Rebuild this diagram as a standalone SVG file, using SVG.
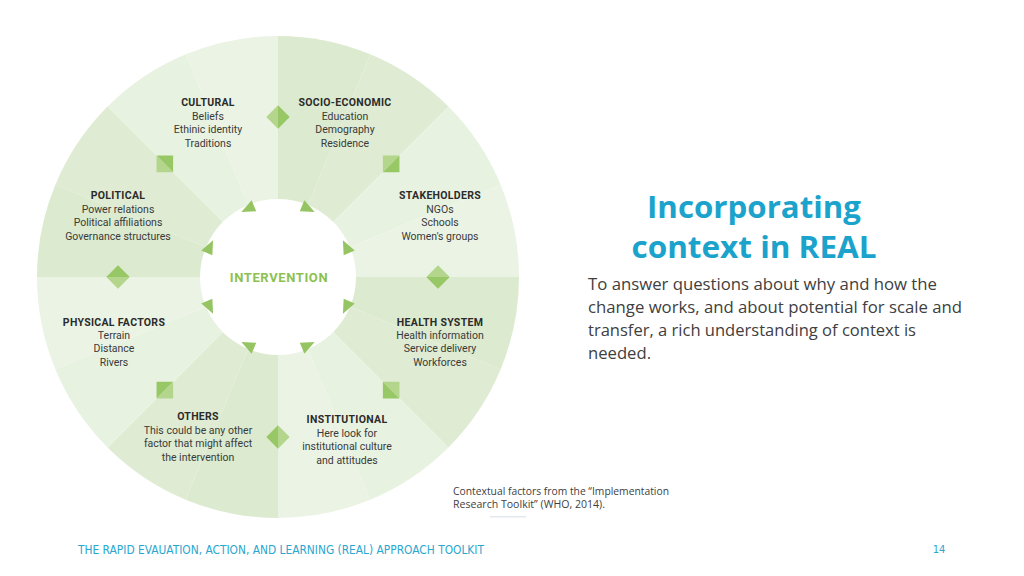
<svg xmlns="http://www.w3.org/2000/svg" width="1024" height="576" viewBox="0 0 1024 576">
<defs>
<style>
.dk1{fill:#dceacf}.dk2{fill:#dfecd3}.lt1{fill:#e8f2e0}.lt2{fill:#ebf4e4}
.hd{font-family:Roboto,"DejaVu Sans",sans-serif;font-weight:bold;font-size:10.5px;fill:#2b2b2b;text-anchor:middle;letter-spacing:0.3px}
.it{font-family:Roboto,"DejaVu Sans",sans-serif;font-size:10.5px;fill:#3a3a3a;text-anchor:middle}
.mkL{fill:#b3d68c}.mkD{fill:#98c766}
.tri{fill:#95c462}
</style>
<g id="tri-inc"><polygon class="tri" points="74,9 69,-5 81,-5"/></g>
<g id="tri-dec"><polygon class="tri" points="74,-9 69,5 81,5"/></g>
<g id="mark"><polygon class="mkL" points="148.3,0 160,-11.7 171.7,0"/><polygon class="mkD" points="148.3,0 160,11.7 171.7,0"/></g>
</defs>
<rect width="1024" height="576" fill="#ffffff"/>

<g id="stakeholders">
<path class="lt1" d="M278,277 L448.41,106.59 A241,241 0 0,1 500.65,184.77 Z"/>
<path class="lt2" d="M278,277 L500.65,184.77 A241,241 0 0,1 519,277 Z"/>
<text class="hd" x="440" y="199">STAKEHOLDERS</text>
<text class="it" x="440" y="213">NGOs</text>
<text class="it" x="440" y="226">Schools</text>
<text class="it" x="440" y="240">Women's groups</text>
</g>
<g id="health-system">
<path class="dk1" d="M278,277 L519,277 A241,241 0 0,1 500.65,369.23 Z"/>
<path class="dk2" d="M278,277 L500.65,369.23 A241,241 0 0,1 448.41,447.41 Z"/>
<text class="hd" x="440" y="326">HEALTH SYSTEM</text>
<text class="it" x="440" y="339">Health information</text>
<text class="it" x="440" y="352">Service delivery</text>
<text class="it" x="440" y="366">Workforces</text>
</g>
<g id="institutional">
<path class="lt1" d="M278,277 L448.41,447.41 A241,241 0 0,1 370.23,499.65 Z"/>
<path class="lt2" d="M278,277 L370.23,499.65 A241,241 0 0,1 278,518 Z"/>
<text class="hd" x="347" y="423">INSTITUTIONAL</text>
<text class="it" x="347" y="437">Here look for</text>
<text class="it" x="347" y="450">institutional culture</text>
<text class="it" x="347" y="464">and attitudes</text>
</g>
<g id="others">
<path class="dk1" d="M278,277 L278,518 A241,241 0 0,1 185.77,499.65 Z"/>
<path class="dk2" d="M278,277 L185.77,499.65 A241,241 0 0,1 107.59,447.41 Z"/>
<text class="hd" x="198" y="420">OTHERS</text>
<text class="it" x="198" y="434">This could be any other</text>
<text class="it" x="198" y="447">factor that might affect</text>
<text class="it" x="198" y="461">the intervention</text>
</g>
<g id="physical-factors">
<path class="lt1" d="M278,277 L107.59,447.41 A241,241 0 0,1 55.35,369.23 Z"/>
<path class="lt2" d="M278,277 L55.35,369.23 A241,241 0 0,1 37,277 Z"/>
<text class="hd" x="114" y="326">PHYSICAL FACTORS</text>
<text class="it" x="114" y="339">Terrain</text>
<text class="it" x="114" y="352">Distance</text>
<text class="it" x="114" y="366">Rivers</text>
</g>
<g id="political">
<path class="dk1" d="M278,277 L37,277 A241,241 0 0,1 55.35,184.77 Z"/>
<path class="dk2" d="M278,277 L55.35,184.77 A241,241 0 0,1 107.59,106.59 Z"/>
<text class="hd" x="118" y="199">POLITICAL</text>
<text class="it" x="118" y="213">Power relations</text>
<text class="it" x="118" y="226">Political affiliations</text>
<text class="it" x="118" y="240">Governance structures</text>
</g>
<g id="cultural">
<path class="lt1" d="M278,277 L107.59,106.59 A241,241 0 0,1 185.77,54.35 Z"/>
<path class="lt2" d="M278,277 L185.77,54.35 A241,241 0 0,1 278,36 Z"/>
<text class="hd" x="208" y="106">CULTURAL</text>
<text class="it" x="208" y="120">Beliefs</text>
<text class="it" x="208" y="133">Ethinic identity</text>
<text class="it" x="208" y="147">Traditions</text>
</g>
<g id="socio-economic">
<path class="dk1" d="M278,277 L278,36 A241,241 0 0,1 370.23,54.35 Z"/>
<path class="dk2" d="M278,277 L370.23,54.35 A241,241 0 0,1 448.41,106.59 Z"/>
<text class="hd" x="345" y="106">SOCIO-ECONOMIC</text>
<text class="it" x="345" y="120">Education</text>
<text class="it" x="345" y="133">Demography</text>
<text class="it" x="345" y="147">Residence</text>
</g>

<g id="intervention">
<circle cx="278" cy="277" r="78" fill="#ffffff"/>
<text x="279" y="282" text-anchor="middle" font-family="Roboto,'DejaVu Sans',sans-serif" font-weight="bold" font-size="13" letter-spacing="0.6" fill="#8cc152">INTERVENTION</text>
</g>

<g id="connectors">
<use href="#mark" transform="translate(278,277) rotate(-90)"/>
<use href="#mark" transform="translate(278,277) rotate(-45)"/>
<use href="#mark" transform="translate(278,277) rotate(0)"/>
<use href="#mark" transform="translate(278,277) rotate(45)"/>
<use href="#mark" transform="translate(278,277) rotate(90)"/>
<use href="#mark" transform="translate(278,277) rotate(135)"/>
<use href="#mark" transform="translate(278,277) rotate(180)"/>
<use href="#mark" transform="translate(278,277) rotate(225)"/>
<use href="#tri-dec" transform="translate(278,277) rotate(-112.5)"/>
<use href="#tri-inc" transform="translate(278,277) rotate(-67.5)"/>
<use href="#tri-dec" transform="translate(278,277) rotate(-22.5)"/>
<use href="#tri-inc" transform="translate(278,277) rotate(22.5)"/>
<use href="#tri-dec" transform="translate(278,277) rotate(67.5)"/>
<use href="#tri-inc" transform="translate(278,277) rotate(112.5)"/>
<use href="#tri-dec" transform="translate(278,277) rotate(157.5)"/>
<use href="#tri-inc" transform="translate(278,277) rotate(202.5)"/>
</g>

<g id="title">
<text x="754" y="218" text-anchor="middle" font-family="'Open Sans','Liberation Sans',sans-serif" font-weight="bold" font-size="31" fill="#1ba3cc" textLength="214" lengthAdjust="spacingAndGlyphs">Incorporating</text>
<text x="754" y="258" text-anchor="middle" font-family="'Open Sans','Liberation Sans',sans-serif" font-weight="bold" font-size="31" fill="#1ba3cc" textLength="245" lengthAdjust="spacingAndGlyphs">context in REAL</text>
</g>
<g id="body" font-family="'Open Sans','Liberation Sans',sans-serif" font-size="16" fill="#404040">
<text x="588" y="290" textLength="349" lengthAdjust="spacingAndGlyphs">To answer questions about why and how the</text>
<text x="588" y="313" textLength="374" lengthAdjust="spacingAndGlyphs">change works, and about potential for scale and</text>
<text x="588" y="336" textLength="328" lengthAdjust="spacingAndGlyphs">transfer, a rich understanding of context is</text>
<text x="588" y="359" textLength="63" lengthAdjust="spacingAndGlyphs">needed.</text>
</g>
<g id="caption" font-family="'Open Sans','Liberation Sans',sans-serif" font-size="10" fill="#404040">
<text x="453" y="495" textLength="216" lengthAdjust="spacingAndGlyphs">Contextual factors from the “Implementation</text>
<text x="453" y="508" textLength="152" lengthAdjust="spacingAndGlyphs">Research Toolkit” (WHO, 2014).</text>
<rect x="490" y="516" width="36" height="1.5" fill="#e3e9ee"/>
</g>
<g id="footer" font-family="'Liberation Sans Narrow','DejaVu Sans Condensed','Liberation Sans',sans-serif" fill="#2aa7cf">
<text x="78" y="554" font-size="12.5" textLength="406" lengthAdjust="spacingAndGlyphs">THE RAPID EVAUATION, ACTION, AND LEARNING (REAL) APPROACH TOOLKIT</text>
<text x="939" y="553" font-size="11" text-anchor="middle">14</text>
</g>
</svg>
